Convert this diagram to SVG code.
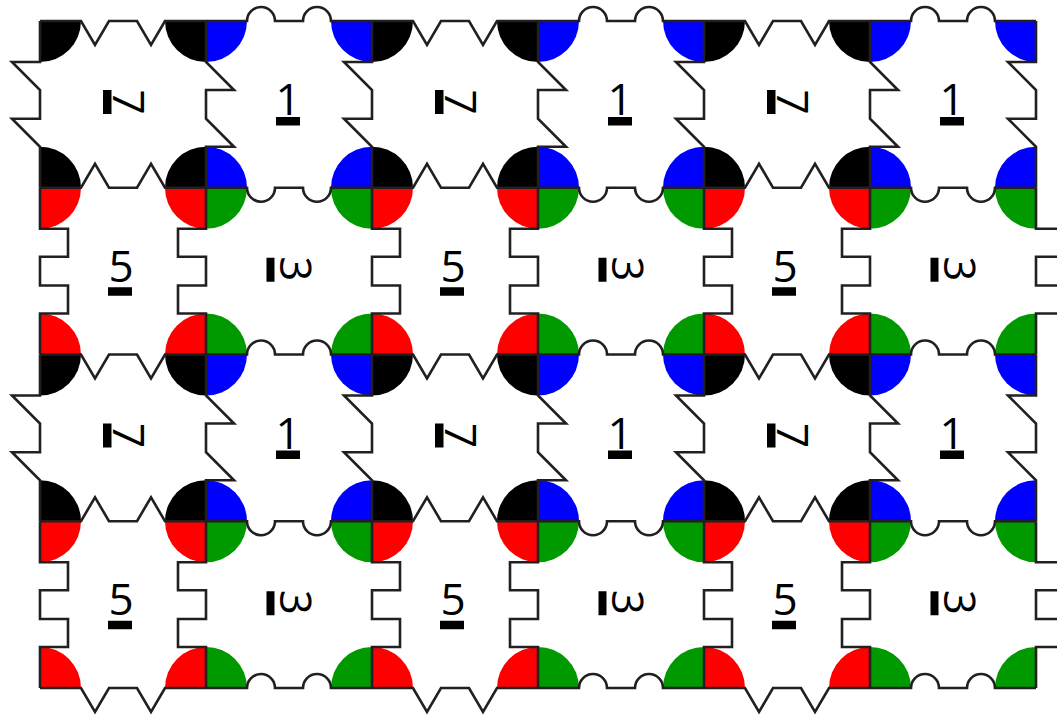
<svg xmlns="http://www.w3.org/2000/svg" xmlns:xlink="http://www.w3.org/1999/xlink" width="1057" height="715" viewBox="0 0 1057 715">
<style>
.edge{fill:none;stroke:#231f20;stroke-width:2.6;stroke-linejoin:miter;stroke-miterlimit:10}
.lbl{font-family:"Open Sans","Liberation Sans",sans-serif;font-size:44px;fill:#000}
.bar{fill:#000}
</style>
<defs>
<path id="q" d="M0,0 H41 A41,41 0 0 1 0,41 Z"/>
<g id="corners">
<use href="#q"/>
<use href="#q" transform="translate(166,0) rotate(90)"/>
<use href="#q" transform="translate(0,166.75) rotate(270)"/>
<use href="#q" transform="translate(166,166.75) rotate(180)"/>
</g>
<g id="tileA">
<use href="#corners" fill="#000000"/>
<g transform="translate(73,81) rotate(90)"><text class="lbl" x="0" y="0" text-anchor="middle">7</text><rect class="bar" x="-12" y="1.5" width="24" height="8.5"/></g>
</g>
<g id="tileB">
<use href="#corners" fill="#0000ff"/>
<text class="lbl" x="82" y="94" text-anchor="middle">1</text><rect class="bar" x="70" y="96" width="24" height="8.5"/>
</g>
<g id="tileC">
<use href="#corners" fill="#ff0000"/>
<text class="lbl" x="81" y="94" text-anchor="middle">5</text><rect class="bar" x="68" y="99.5" width="24" height="8.5"/>
</g>
<g id="tileD">
<use href="#corners" fill="#009900"/>
<g transform="translate(74,81) rotate(90)"><text class="lbl" x="0" y="0" text-anchor="middle">3</text><rect class="bar" x="-11" y="5.5" width="24" height="8"/></g>
</g>
<path id="hVd" d="M0,0 H41 L55,24 L69,0 H97 L111,24 L125,0 H166"/>
<path id="hVu" d="M0,0 H41 L55,-24 L69,0 H97 L111,-24 L125,0 H166"/>
<path id="hBu" d="M0,0 H41 A14,14 0 0 1 69,0 H97 A14,14 0 0 1 125,0 H166"/>
<path id="hBd" d="M0,0 H41 A14,14 0 0 0 69,0 H97 A14,14 0 0 0 125,0 H166"/>
<path id="vAl" d="M0,0 V41 H-28 L0,69 V97.75 H-28 L0,125.75 V166.75"/>
<path id="vAr" d="M0,0 V41 L28,69 H0 V97.75 L28,125.75 H0 V166.75"/>
<path id="vCr" d="M0,0 V41 H28 V69 H0 V97.75 H28 V125.75 H0 V166.75"/>
<path id="vCl" d="M0,0 V41 H-28 V69 H0 V97.75 H-28 V125.75 H0 V166.75"/>
<g id="hrowE"><use href="#hVd"/><use href="#hBu" x="166"/><use href="#hVd" x="332"/><use href="#hBu" x="498"/><use href="#hVd" x="664"/><use href="#hBu" x="830"/></g>
<g id="hrowO"><use href="#hVu"/><use href="#hBd" x="166"/><use href="#hVu" x="332"/><use href="#hBd" x="498"/><use href="#hVu" x="664"/><use href="#hBd" x="830"/></g>
<g id="vrowA"><use href="#vAl"/><use href="#vAr" x="166"/><use href="#vAl" x="332"/><use href="#vAr" x="498"/><use href="#vAl" x="664"/><use href="#vAr" x="830"/><use href="#vAl" x="996"/></g>
<g id="vrowC"><use href="#vCr"/><use href="#vCl" x="166"/><use href="#vCr" x="332"/><use href="#vCl" x="498"/><use href="#vCr" x="664"/><use href="#vCl" x="830"/><use href="#vCr" x="996"/></g>
</defs>
<rect x="0" y="0" width="1057" height="715" fill="#ffffff"/>
<g id="tiles">
<g id="tile-r0-c0" transform="translate(40,21)"><use href="#tileA"/></g>
<g id="tile-r0-c1" transform="translate(206,21)"><use href="#tileB"/></g>
<g id="tile-r0-c2" transform="translate(372,21)"><use href="#tileA"/></g>
<g id="tile-r0-c3" transform="translate(538,21)"><use href="#tileB"/></g>
<g id="tile-r0-c4" transform="translate(704,21)"><use href="#tileA"/></g>
<g id="tile-r0-c5" transform="translate(870,21)"><use href="#tileB"/></g>
<g id="tile-r1-c0" transform="translate(40,187.75)"><use href="#tileC"/></g>
<g id="tile-r1-c1" transform="translate(206,187.75)"><use href="#tileD"/></g>
<g id="tile-r1-c2" transform="translate(372,187.75)"><use href="#tileC"/></g>
<g id="tile-r1-c3" transform="translate(538,187.75)"><use href="#tileD"/></g>
<g id="tile-r1-c4" transform="translate(704,187.75)"><use href="#tileC"/></g>
<g id="tile-r1-c5" transform="translate(870,187.75)"><use href="#tileD"/></g>
<g id="tile-r2-c0" transform="translate(40,354.5)"><use href="#tileA"/></g>
<g id="tile-r2-c1" transform="translate(206,354.5)"><use href="#tileB"/></g>
<g id="tile-r2-c2" transform="translate(372,354.5)"><use href="#tileA"/></g>
<g id="tile-r2-c3" transform="translate(538,354.5)"><use href="#tileB"/></g>
<g id="tile-r2-c4" transform="translate(704,354.5)"><use href="#tileA"/></g>
<g id="tile-r2-c5" transform="translate(870,354.5)"><use href="#tileB"/></g>
<g id="tile-r3-c0" transform="translate(40,521.25)"><use href="#tileC"/></g>
<g id="tile-r3-c1" transform="translate(206,521.25)"><use href="#tileD"/></g>
<g id="tile-r3-c2" transform="translate(372,521.25)"><use href="#tileC"/></g>
<g id="tile-r3-c3" transform="translate(538,521.25)"><use href="#tileD"/></g>
<g id="tile-r3-c4" transform="translate(704,521.25)"><use href="#tileC"/></g>
<g id="tile-r3-c5" transform="translate(870,521.25)"><use href="#tileD"/></g>
</g>
<g id="edges" class="edge">
<use href="#hrowE" x="40" y="21"/>
<use href="#hrowO" x="40" y="187.75"/>
<use href="#hrowE" x="40" y="354.5"/>
<use href="#hrowO" x="40" y="521.25"/>
<use href="#hrowE" x="40" y="688"/>
<use href="#vrowA" x="40" y="21"/>
<use href="#vrowC" x="40" y="187.75"/>
<use href="#vrowA" x="40" y="354.5"/>
<use href="#vrowC" x="40" y="521.25"/>
</g>
</svg>
